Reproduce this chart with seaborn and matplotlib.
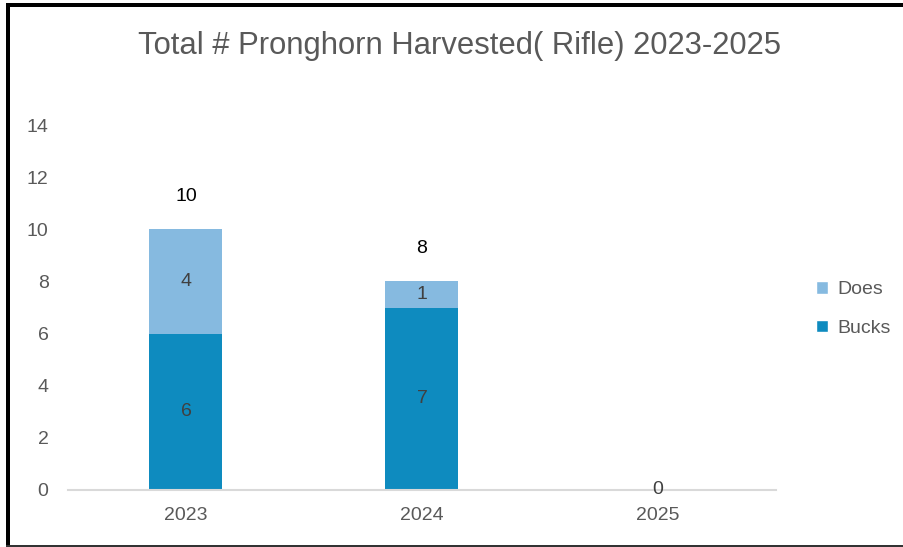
import matplotlib
matplotlib.use("Agg")
import matplotlib.pyplot as plt
import seaborn as sns
import pandas as pd
from matplotlib.patches import Rectangle, Patch

years = ["2023", "2024", "2025"]
bucks = [6, 7, 0]
does = [4, 1, 0]
totals = [b + d for b, d in zip(bucks, does)]
yticks = [0, 2, 4, 6, 8, 10, 12, 14]

bucks_color = "#0E8BBF"
does_color = "#86BAE0"
text_gray = "#595959"

df = pd.DataFrame({"Year": years, "Bucks": bucks, "Does": does, "Total": totals})

sns.set_theme(style="white")
plt.rcParams["font.family"] = ["Liberation Sans", "DejaVu Sans"]

W, H = 904, 547
fig = plt.figure(figsize=(W / 100, H / 100), dpi=100)
ax = fig.add_axes([68 / W, 1 - 490 / H, (776 - 68) / W, (490 - 125) / H])

bw = 73 / 236
sns.barplot(data=df, x="Year", y="Total", color=does_color, width=bw,
            saturation=1, ax=ax, linewidth=0)
sns.barplot(data=df, x="Year", y="Bucks", color=bucks_color, width=bw,
            saturation=1, ax=ax, linewidth=0)

ax.set_ylim(0, 14)
ax.set_xlim(-0.5, 2.5)
ax.set_yticks(yticks)
ax.set_yticklabels([str(t) for t in yticks])
ax.set_xlabel("")
ax.set_ylabel("")
for s in ["top", "right", "left"]:
    ax.spines[s].set_visible(False)
ax.spines["bottom"].set_color("#D9D9D9")
ax.spines["bottom"].set_linewidth(1.5)
ax.tick_params(axis="both", length=0, labelsize=14, colors=text_gray)
ax.tick_params(axis="y", pad=14)
ax.tick_params(axis="x", pad=12)

for i, (b, d, t) in enumerate(zip(bucks, does, totals)):
    if b > 0:
        ax.text(i, b / 2, str(b), ha="center", va="center", fontsize=14, color="#404040")
    if d > 0:
        ax.text(i, b + d / 2, str(d), ha="center", va="center", fontsize=14, color="#404040")
    if t > 0:
        ax.text(i, t + 1.25, str(t), ha="center", va="center", fontsize=14, color="black")
    else:
        ax.text(i, 0, str(t), ha="center", va="center", fontsize=14, color="#404040")

fig.text(0.5 * (137 + 782) / W, 1 - 46 / H, "Total # Pronghorn Harvested( Rifle) 2023-2025",
         ha="center", va="center", fontsize=22.3, color=text_gray)

handles = [Patch(facecolor=does_color, label="Does"), Patch(facecolor=bucks_color, label="Bucks")]
leg = fig.legend(handles=handles, loc="center left", bbox_to_anchor=(799 / W, 1 - 309 / H),
                 frameon=False, fontsize=14, handlelength=0.6, handleheight=0.6,
                 handletextpad=0.45, labelspacing=1.1)
for t in leg.get_texts():
    t.set_color(text_gray)

# frame borders
fig.add_artist(Rectangle((6 / W, 0), 4 / W, 1 - 3 / H, transform=fig.transFigure,
                         facecolor="black", edgecolor="none"))
fig.add_artist(Rectangle((6 / W, 1 - 7 / H), 1 - 6 / W, 4 / H, transform=fig.transFigure,
                         facecolor="black", edgecolor="none"))
fig.add_artist(Rectangle((6 / W, 1 - 547 / H), 1 - 6 / W, 2 / H, transform=fig.transFigure,
                         facecolor="#333333", edgecolor="none"))

fig.savefig("out.png", dpi=100)
